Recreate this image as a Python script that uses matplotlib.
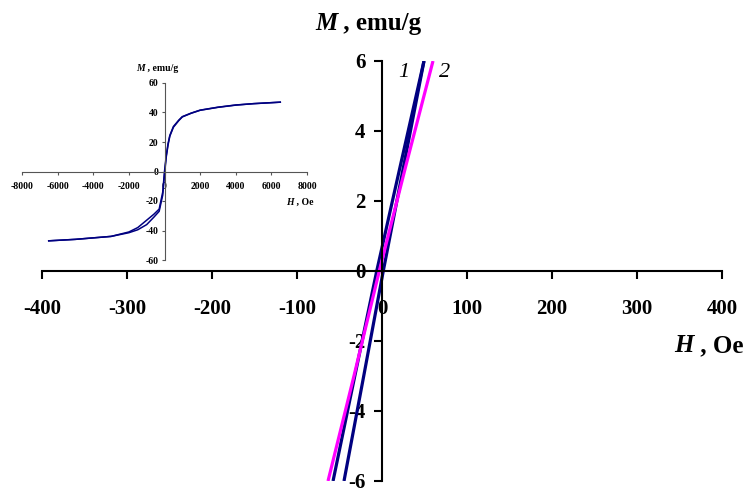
import numpy as np
import matplotlib
matplotlib.use("Agg")
import matplotlib.pyplot as plt

plt.rcParams['font.family'] = ['Liberation Serif', 'DejaVu Serif']
plt.rcParams['axes.unicode_minus'] = False

# main plot: low-field part of the loops (M in emu/g, H in Oe)
m_main = [-6, -3, 0, 3, 6]
h1_left = [-57.6, -32.0, -6.2, 21.5, 49.4]    # curve 1, descending branch
h1_right = [-44.7, -21.5, 1.5, 25.5, 49.4]    # curve 1, ascending branch
h2 = [-63.5, -33.0, -3.2, 28.0, 60.0]         # curve 2

# inset: full loop of curve 1
h_ins = [-6500, -5000, -4000, -3000, -2000, -1500, -1000, -600, -300, -100, 0,
         100, 200, 300, 500, 800, 1000, 1500, 2000, 3000, 4000, 5000, 6500]
m_ins_a = [-47, -46, -45, -44, -41.5, -39.5, -36, -31, -27, -16, -2,
           10, 18, 24, 30, 34.5, 37, 39.5, 41.5, 43.5, 45, 46, 47]
m_ins_b = [-47, -46, -45, -44, -41, -38, -33, -29, -25.5, -14, 0,
           11, 19, 24.5, 30.5, 34.8, 37.2, 39.6, 41.6, 43.6, 45.1, 46, 47]

xticks_main = [-400, -300, -200, -100, 0, 100, 200, 300, 400]
yticks_main = [-6, -4, -2, 0, 2, 4, 6]
xticks_ins = np.arange(-8000, 8001, 2000)
yticks_ins = np.arange(-60, 61, 20)

W, H = 744, 488
def fx(px): return px / W
def fy(py): return 1 - py / H

fig = plt.figure(figsize=(7.44, 4.88), dpi=100)

ax = fig.add_axes([fx(42), fy(481), fx(722) - fx(42), fy(61) - fy(481)])
ax.set_xlim(-400, 400)
ax.set_ylim(-6, 6)
for s in ['top', 'right']:
  ax.spines[s].set_visible(False)
for s in ['left', 'bottom']:
  ax.spines[s].set_position(('data', 0))
  ax.spines[s].set_linewidth(1.5)
ax.set_xticks(xticks_main)
ax.set_yticks(yticks_main)
ax.tick_params(axis='x', direction='out', length=6, width=1.5, pad=14, labelsize=15)
ax.tick_params(axis='y', direction='out', length=6, width=1.5, pad=6, labelsize=15)
for lab in ax.get_xticklabels() + ax.get_yticklabels():
  lab.set_fontweight('bold')
ax.patch.set_alpha(0)

ax.plot(h1_left, m_main, color='#000080', lw=2.3, solid_capstyle='butt')
ax.plot(h1_right, m_main, color='#000080', lw=2.3, solid_capstyle='butt')
ax.plot(h2, m_main, color='#FF00FF', lw=2.3, solid_capstyle='butt')

ax.text(26, 5.68, '1', style='italic', fontsize=16, ha='center', va='center')
ax.text(74, 5.68, '2', style='italic', fontsize=16, ha='center', va='center')

# axis titles: italic bold symbol + bold units
t = fig.text(fx(315), fy(30), 'M', style='italic', weight='bold', fontsize=18,
             ha='left', va='baseline')
ax.annotate(' , emu/g', xy=(1, 0), xycoords=t, weight='bold', fontsize=18,
            ha='left', va='bottom')
t2 = fig.text(fx(674), fy(352), 'H', style='italic', weight='bold', fontsize=18,
              ha='left', va='baseline')
ax.annotate(' , Oe', xy=(1, 0), xycoords=t2, weight='bold', fontsize=18,
            ha='left', va='bottom')

# inset
iax = fig.add_axes([fx(22), fy(260), fx(307) - fx(22), fy(83) - fy(260)])
iax.set_xlim(-8000, 8000)
iax.set_ylim(-60, 60)
iax.patch.set_alpha(0)
for s in ['top', 'right']:
  iax.spines[s].set_visible(False)
for s in ['left', 'bottom']:
  iax.spines[s].set_position(('data', 0))
  iax.spines[s].set_linewidth(0.8)
  iax.spines[s].set_color('#555555')
iax.set_xticks(xticks_ins)
iax.set_yticks(yticks_ins)
iax.tick_params(axis='x', direction='out', length=2.5, width=0.8, color='#555555', pad=5, labelsize=7)
iax.tick_params(axis='y', direction='out', length=2.5, width=0.8, color='#555555', pad=2, labelsize=7)
for lab in iax.get_xticklabels() + iax.get_yticklabels():
  lab.set_fontweight('bold')
iax.plot(h_ins, m_ins_a, color='#000080', lw=1.1)
iax.plot(h_ins, m_ins_b, color='#000080', lw=1.1)

t3 = fig.text(fx(136), fy(71), 'M', style='italic', weight='bold', fontsize=7,
              ha='left', va='baseline')
iax.annotate(' , emu/g', xy=(1, 0), xycoords=t3, weight='bold', fontsize=7,
             ha='left', va='bottom')
t4 = fig.text(fx(286), fy(205), 'H', style='italic', weight='bold', fontsize=7,
              ha='left', va='baseline')
iax.annotate(' , Oe', xy=(1, 0), xycoords=t4, weight='bold', fontsize=7,
             ha='left', va='bottom')

fig.savefig('out.png', dpi=100)
